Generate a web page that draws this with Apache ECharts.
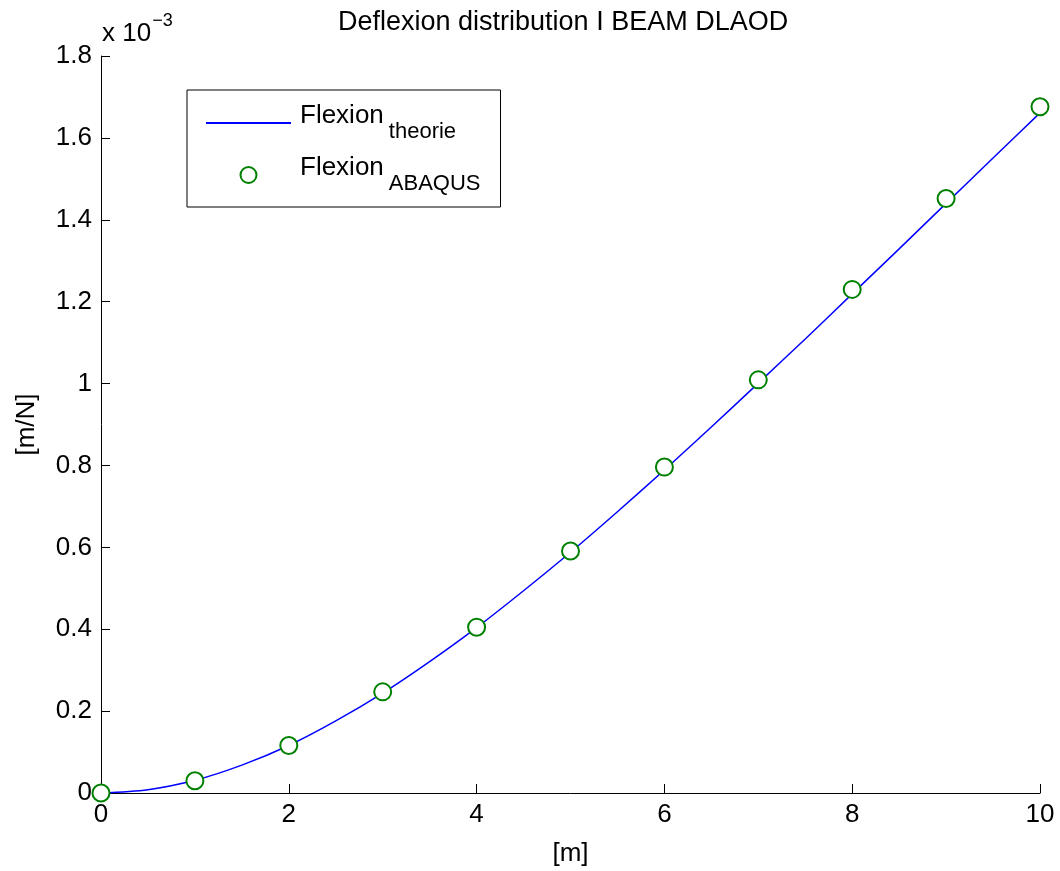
<!DOCTYPE html>
<html>
<head>
<meta charset="utf-8">
<script src="https://cdn.jsdelivr.net/npm/echarts@6/dist/echarts.min.js"></script>
<style>
  html, body { margin: 0; padding: 0; background: #fff; }
  #chart { width: 1060px; height: 871px; }
</style>
</head>
<body>
<div id="chart"></div>
<script>
// theoretical deflexion curve (values in 1e-3 m/N)
var theoryX = [0, 0.5, 1, 1.5, 2, 2.5, 3, 3.5, 4, 4.5, 5, 5.5, 6, 6.5, 7, 7.5, 8, 8.5, 9, 9.5, 10];
var theoryY = [0, 0.008, 0.031, 0.068, 0.116, 0.176, 0.244, 0.321, 0.404, 0.494, 0.588,
  0.687, 0.789, 0.894, 1.001, 1.109, 1.219, 1.329, 1.440, 1.551, 1.661];

// ABAQUS results
var abaqusX = [0, 1, 2, 3, 4, 5, 6, 7, 8, 9, 10];
var abaqusY = [0, 0.030, 0.116, 0.247, 0.405, 0.591, 0.796, 1.009, 1.230, 1.452, 1.676];

var FONT = "'Liberation Sans', Arial, Helvetica, sans-serif";

function pairs(xs, ys) {
  var out = [];
  for (var i = 0; i < xs.length; i++) out.push([xs[i], ys[i]]);
  return out;
}

var chart = echarts.init(document.getElementById('chart'), null, { renderer: 'canvas' });

var option = {
  animation: false,
  backgroundColor: '#fff',
  textStyle: { fontFamily: FONT, color: '#000' },
  title: {
    text: 'Deflexion distribution I BEAM DLAOD',
    left: 333,
    top: 4,
    textStyle: { fontFamily: FONT, fontSize: 27, fontWeight: 'normal', color: '#000' }
  },
  graphic: [
    {
      type: 'text',
      left: 102,
      top: 12,
      style: {
        text: '{a|x 10}{b|\u22123}',
        rich: {
          a: { fontFamily: FONT, fontSize: 26, color: '#000', verticalAlign: 'bottom' },
          b: { fontFamily: FONT, fontSize: 18, color: '#000', verticalAlign: 'bottom', padding: [0, 0, 17, 1] }
        }
      }
    }
  ],
  legend: {
    orient: 'vertical',
    left: 187,
    top: 90,
    padding: [13, 20, 12, 18],
    itemGap: 12,
    itemWidth: 85,
    itemHeight: 16,
    borderColor: '#000',
    borderWidth: 1,
    backgroundColor: '#fff',
    selectedMode: false,
    data: [
      { name: 'theorie', itemStyle: { opacity: 0 } },
      'ABAQUS'
    ],
    formatter: function (name) {
      return '{a|Flexion}{b|' + name + '}';
    },
    textStyle: {
      padding: [0, 0, 0, 4],
      rich: {
        a: { fontFamily: FONT, fontSize: 26, color: '#000', verticalAlign: 'bottom', padding: [0, 0, 14, 0] },
        b: { fontFamily: FONT, fontSize: 22, color: '#000', verticalAlign: 'bottom', padding: [0, 0, 0, 5] }
      }
    }
  },
  grid: { left: 101, right: 20, top: 56, bottom: 78, containLabel: false, outerBoundsMode: 'none' },
  xAxis: {
    type: 'value',
    min: 0,
    max: 10,
    interval: 2,
    name: '[m]',
    nameLocation: 'middle',
    nameGap: 48,
    nameTextStyle: { fontFamily: FONT, fontSize: 26, color: '#000' },
    axisLine: { lineStyle: { color: '#000', width: 1 } },
    axisTick: { inside: true, length: 9, lineStyle: { color: '#000' } },
    axisLabel: { fontFamily: FONT, fontSize: 26, color: '#000', margin: 9 },
    splitLine: { show: false }
  },
  yAxis: {
    type: 'value',
    min: 0,
    max: 1.8,
    interval: 0.2,
    name: '[m/N]',
    nameLocation: 'middle',
    nameGap: 61,
    nameTextStyle: { fontFamily: FONT, fontSize: 26, color: '#000' },
    axisLine: { show: true, lineStyle: { color: '#000', width: 1 } },
    axisTick: { show: true, inside: true, length: 9, lineStyle: { color: '#000' } },
    axisLabel: { fontFamily: FONT, fontSize: 26, color: '#000', margin: 9 },
    splitLine: { show: false }
  },
  series: [
    {
      name: 'theorie',
      type: 'line',
      data: pairs(theoryX, theoryY),
      smooth: 0.3,
      symbol: 'none',
      lineStyle: { color: '#0000ff', width: 1.5 },
      itemStyle: { color: '#0000ff' },
      z: 2
    },
    {
      name: 'ABAQUS',
      type: 'scatter',
      data: pairs(abaqusX, abaqusY),
      symbol: 'emptyCircle',
      symbolSize: 17,
      itemStyle: { color: '#008000', borderColor: '#008000', borderWidth: 1.5, opacity: 1 },
      z: 3
    }
  ]
};

chart.setOption(option);
</script>
</body>
</html>
